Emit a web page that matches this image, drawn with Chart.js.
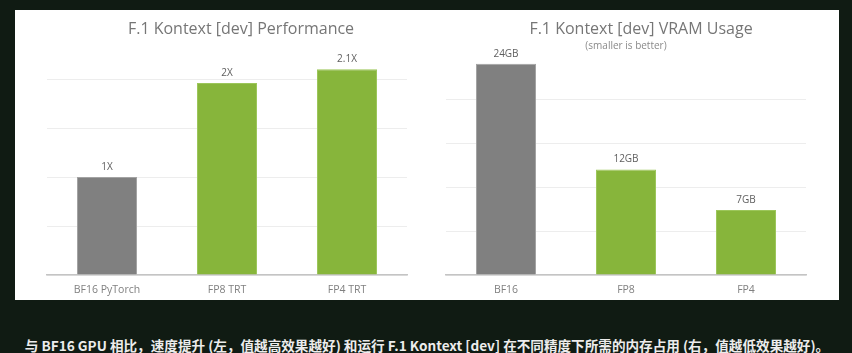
<!DOCTYPE html>
<html>
<head>
<meta charset="utf-8">
<script src="https://cdn.jsdelivr.net/npm/chart.js@4"></script>
<style>
  html, body { margin: 0; padding: 0; }
  body { width: 852px; height: 353px; background: #101b13; position: relative; overflow: hidden; }
  #panel { position: absolute; left: 15px; top: 10px; width: 824px; height: 290px; background: #fff; }
  .box { position: absolute; top: 10px; width: 412px; height: 290px; }
  #perfBox { left: 15px; }
  #vramBox { left: 427px; }
  .title { position: absolute; font-family: "Open Sans", sans-serif; color: #767676; white-space: nowrap;
    transform: translate(-50%, -50%); }
  .main { font-size: 16px; }
  .sub { font-size: 10px; color: #8a8a8a; }
  #caption { position: absolute; left: 427px; top: 345px; transform: translate(-50%, -50%); white-space: nowrap;
    font-family: "Noto Sans CJK SC", sans-serif; font-weight: bold; font-size: 13.6px; color: #ececec; }
</style>
</head>
<body>
<div id="panel"></div>
<div class="box" id="perfBox"><canvas id="perfChart"></canvas></div>
<div class="box" id="vramBox"><canvas id="vramChart"></canvas></div>
<div class="title main" style="left:241px; top:28px;">F.1 Kontext [dev] Performance</div>
<div class="title main" style="left:641px; top:28px;">F.1 Kontext [dev] VRAM Usage</div>
<div class="title sub" style="left:626px; top:45px;">(smaller is better)</div>
<div id="caption">与 BF16 GPU 相比，速度提升 (左，值越高效果越好) 和运行 F.1 Kontext [dev] 在不同精度下所需的内存占用 (右，值越低效果越好)。</div>

<script>
// left chart: speed-up
const perfLabels = ['BF16 PyTorch', 'FP8 TRT', 'FP4 TRT'];
const perfValues = [1, 1.96, 2.1];
const perfText = ['1X', '2X', '2.1X'];

// right chart: VRAM usage in GB
const vramLabels = ['BF16', 'FP8', 'FP4'];
const vramValues = [24, 12, 7.4];
const vramText = ['24GB', '12GB', '7GB'];

const barColors = ['#808080', '#87b53b', '#87b53b'];
const barBorders = ['#a3a3a3', '#9cc65a', '#9cc65a'];

const FONT = '"Open Sans", sans-serif';

// draws the text above each bar
const valueLabels = {
    id: 'valueLabels',
    afterDatasetsDraw(chart, args, opts) {
        const ctx = chart.ctx;
        ctx.save();
        ctx.font = '10px ' + FONT;
        ctx.fillStyle = '#5f5f5f';
        ctx.textAlign = 'center';
        ctx.textBaseline = 'middle';
        chart.getDatasetMeta(0).data.forEach((bar, i) => {
            ctx.fillText(opts.texts[i], bar.x, bar.y - 10);
        });
        ctx.restore();
    }
};

function makeChart(id, labels, values, texts, cfg) {
    return new Chart(document.getElementById(id), {
        type: 'bar',
        data: {
            labels: labels,
            datasets: [{
                data: values,
                backgroundColor: barColors,
                borderColor: barBorders,
                borderWidth: 1,
                categoryPercentage: 1,
                barPercentage: 0.5
            }]
        },
        options: {
            responsive: true,
            maintainAspectRatio: false,
            animation: false,
            layout: { padding: { left: cfg.padLeft, right: cfg.padRight, top: 49.4, bottom: 0 } },
            scales: {
                x: {
                    grid: { display: false, drawTicks: false },
                    border: { color: '#c4c4c4', width: 1.5 },
                    ticks: { padding: 9, color: '#808080', font: { family: FONT, size: 10.5 } },
                    afterFit: (s) => { s.height = 25; }
                },
                y: {
                    min: 0,
                    max: cfg.max,
                    ticks: { display: false, stepSize: cfg.step },
                    border: { display: false },
                    grid: {
                        drawTicks: false,
                        color: (c) => (c.tick && c.tick.value > cfg.gridTop) ? 'rgba(0,0,0,0)' : '#ededed'
                    },
                    afterFit: (s) => { s.width = 0; }
                }
            },
            plugins: {
                legend: { display: false },
                tooltip: { enabled: false },
                valueLabels: { texts: texts }
            }
        },
        plugins: [valueLabels]
    });
}

makeChart('perfChart', perfLabels, perfValues, perfText, {
    max: 2.2, step: 0.5, gridTop: 2.0,
    padLeft: 32, padRight: 20
});

makeChart('vramChart', vramLabels, vramValues, vramText, {
    max: 24.5, step: 5, gridTop: 20,
    padLeft: 19, padRight: 33
});
</script>
</body>
</html>
